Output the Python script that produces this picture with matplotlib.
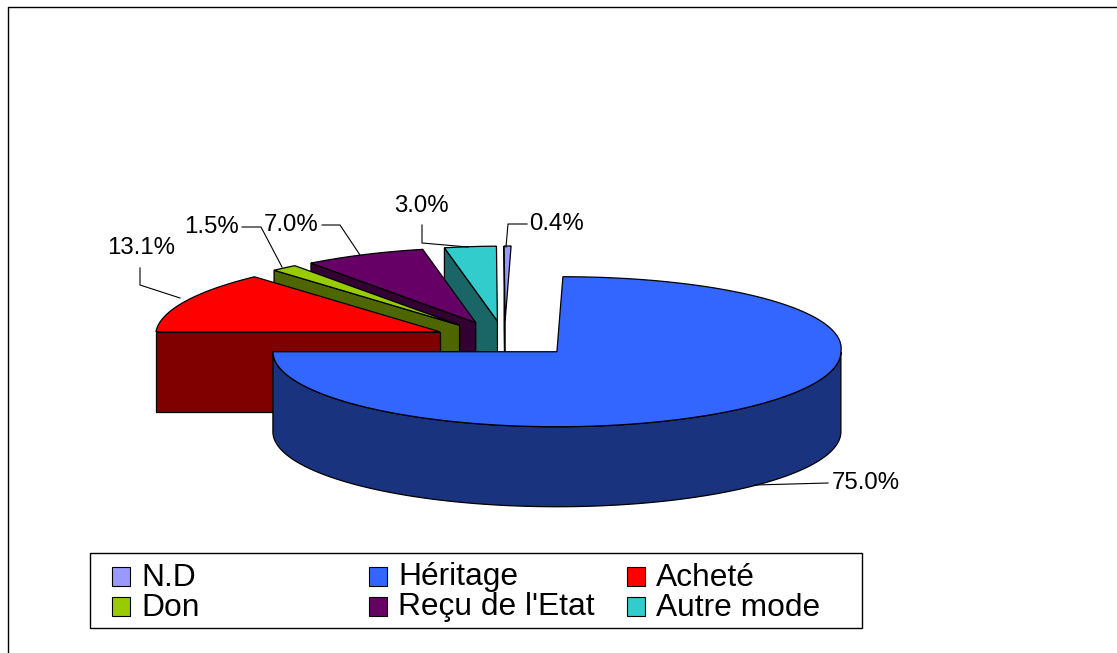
import numpy as np
import matplotlib
matplotlib.use('Agg')
import matplotlib.pyplot as plt
from matplotlib.patches import Rectangle

plt.rcParams['font.family'] = ['Liberation Sans', 'DejaVu Sans']

# chart data, in legend order
categories = ['N.D', 'Héritage', 'Acheté', 'Don', "Reçu de l'Etat", 'Autre mode']
shares = [0.4, 75.0, 13.1, 1.5, 7.0, 3.0]
top_colors = ['#9999FF', '#3366FF', '#FF0000', '#99CC00', '#660066', '#33CCCC']
side_colors = ['#4D4D80', '#19337F', '#800000', '#4D6600', '#330033', '#1A6666']

# pie geometry in pixels
origin_x, origin_y = 506, 339
rx, ry = 284, 75
depth = 80
explode = 72
explode_squash = 0.25
shear, narrowing = 0.08, 0.0003

fig = plt.figure(figsize=(11.17, 6.53), dpi=100)
ax = fig.add_axes([0, 0, 1, 1])
ax.set_xlim(0, 1117)
ax.set_ylim(653, 0)
ax.axis('off')


# t is measured clockwise from the left end of the ellipse
def rim(cx, cy, t):
    t = np.radians(t)
    dx = -rx * np.cos(t)
    up = ry * np.sin(t)
    lift = np.clip(up, 0, None)
    return cx + dx + lift * (shear + narrowing * np.abs(dx)), cy - up


# wedge angles come from the shares, first slice ends at the top
sweeps = np.array(shares) * 3.6
starts = 90 - sweeps[0] + np.concatenate([[0], np.cumsum(sweeps)[:-1]])
ends = starts + sweeps
mids = (starts + ends) / 2
centers_x = origin_x - explode * np.cos(np.radians(mids))
centers_y = origin_y - explode * explode_squash * np.sin(np.radians(mids))

# painter's order: back wedges first, Héritage last
for order, i in enumerate([0, 5, 4, 3, 2, 1]):
    cx, cy = centers_x[i], centers_y[i]
    if i == 1:
        # front wall of the big slice
        t = np.linspace(180, 360, 200)
        x, y = rim(cx, cy, t)
        ax.fill(np.r_[x, x[::-1]], np.r_[y, y[::-1] + depth],
                fc=side_colors[i], ec='black', lw=0.9, zorder=order + 2)
    else:
        # radial wall on the start edge
        sx, sy = rim(cx, cy, starts[i])
        ax.fill([cx, sx, sx, cx], [cy, sy, sy + depth, cy + depth],
                fc=side_colors[i], ec='black', lw=0.9, zorder=order + 2)
    t = np.linspace(starts[i], ends[i], 200)
    x, y = rim(cx, cy, t)
    ax.fill(np.r_[cx, x], np.r_[cy, y], fc=top_colors[i], ec='black', lw=0.9,
            zorder=order + 2.5)

# percentage labels with their leader lines
label_x = [557, 866, 141, 212, 291, 421]
label_y = [224, 483, 248, 227, 225, 206]
leaders = [
    ([506, 508, 527], [247, 224, 224]),
    ([755, 828], [485, 483]),
    ([180, 140, 140], [298, 285, 268]),
    ([282, 261, 242], [267, 227, 227]),
    ([360, 340, 322], [255, 225, 225]),
    ([468, 422, 422], [247, 243, 225]),
]
for i in range(len(shares)):
    ax.plot(leaders[i][0], leaders[i][1], color='black', lw=0.8, zorder=20)
    ax.text(label_x[i], label_y[i], f'{shares[i]:.1f}%', fontsize=17.3,
            ha='center', va='center', color='black', zorder=21)

# legend box, filled row by row
ax.add_patch(Rectangle((90, 553), 772, 75, fc='white', ec='black', lw=1, zorder=22))
legend_cols = [112, 369, 627]
legend_rows = [576.5, 606.5]
for i, name in enumerate(categories):
    lx = legend_cols[i % 3]
    ly = legend_rows[i // 3]
    ax.add_patch(Rectangle((lx, ly - 9.5), 18, 19, fc=top_colors[i], ec='black',
                           lw=0.8, zorder=23))
    ax.text(lx + 29, ly + 9, name, fontsize=22.9, ha='left', va='baseline',
            color='black', zorder=23)

# outer frame, only top and left fall inside the picture
ax.plot([7.5, 7.5, 1117], [653, 7, 7], color='black', lw=1, zorder=24)

fig.savefig('out.png', dpi=100)
